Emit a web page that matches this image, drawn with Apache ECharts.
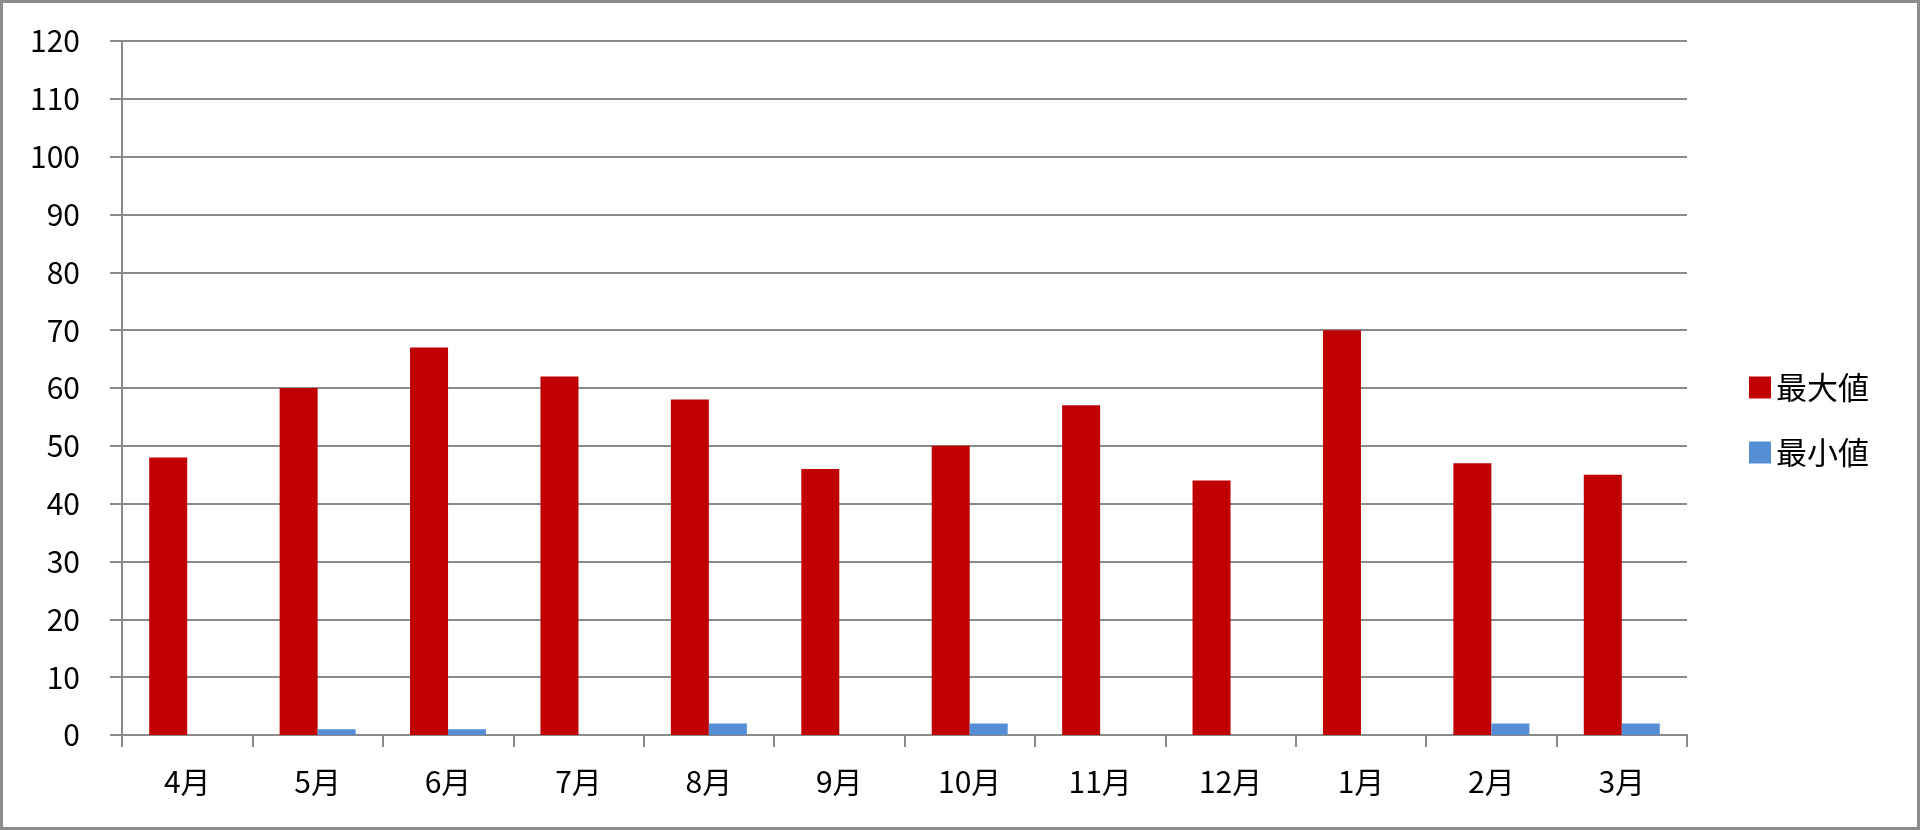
<!DOCTYPE html>
<html>
<head>
<meta charset="utf-8">
<script src="https://cdn.jsdelivr.net/npm/echarts@6/dist/echarts.min.js"></script>
<style>
html,body{margin:0;padding:0;background:#fff;}
#main{width:1920px;height:830px;box-sizing:border-box;border:3px solid #8c8c8c;}
</style>
</head>
<body>
<div id="main"></div>
<script>
// 月別データ
var months = ['4月','5月','6月','7月','8月','9月','10月','11月','12月','1月','2月','3月'];
var maxValues = [48, 60, 67, 62, 58, 46, 50, 57, 44, 70, 47, 45];
var minValues = [0, 1, 1, 0, 2, 0, 2, 0, 0, 0, 2, 2];
var seriesNames = ['最大値', '最小値'];

(function(){

var chart = echarts.init(document.getElementById('main'));
var font = "'Noto Sans CJK JP', 'Noto Sans', sans-serif";
var gray = '#8a8a8a';

var option = {
    animation: false,
    textStyle: { fontFamily: font, color: '#000' },
    grid: { left: 119, right: 230, top: 38, bottom: 92 },
    legend: {
        orient: 'vertical',
        left: 1741,
        top: 364,
        itemWidth: 22,
        itemHeight: 22,
        itemGap: 34,
        icon: 'rect',
        textStyle: { fontSize: 31, fontFamily: font, color: '#000' },
        data: seriesNames
    },
    xAxis: {
        type: 'category',
        data: months,
        axisLine: { lineStyle: { color: gray, width: 2 } },
        axisTick: { show: true, length: 12, lineStyle: { color: gray, width: 2 } },
        axisLabel: { fontSize: 30, margin: 32, color: '#000', fontFamily: font }
    },
    yAxis: {
        type: 'value',
        min: 0,
        max: 120,
        interval: 10,
        axisLine: { show: true, lineStyle: { color: gray, width: 2 } },
        axisTick: { show: true, length: 12, lineStyle: { color: gray, width: 2 } },
        axisLabel: { fontSize: 30, margin: 42, color: '#000', fontFamily: font },
        splitLine: { lineStyle: { color: gray, width: 2 } }
    },
    series: [
        {
            name: seriesNames[0],
            type: 'bar',
            data: maxValues,
            barWidth: 38,
            barGap: 0,
            itemStyle: { color: '#c00000' }
        },
        {
            name: seriesNames[1],
            type: 'bar',
            data: minValues,
            barWidth: 38,
            barGap: 0,
            itemStyle: { color: '#558ed5' }
        }
    ]
};

chart.setOption(option);
})();
</script>
</body>
</html>
